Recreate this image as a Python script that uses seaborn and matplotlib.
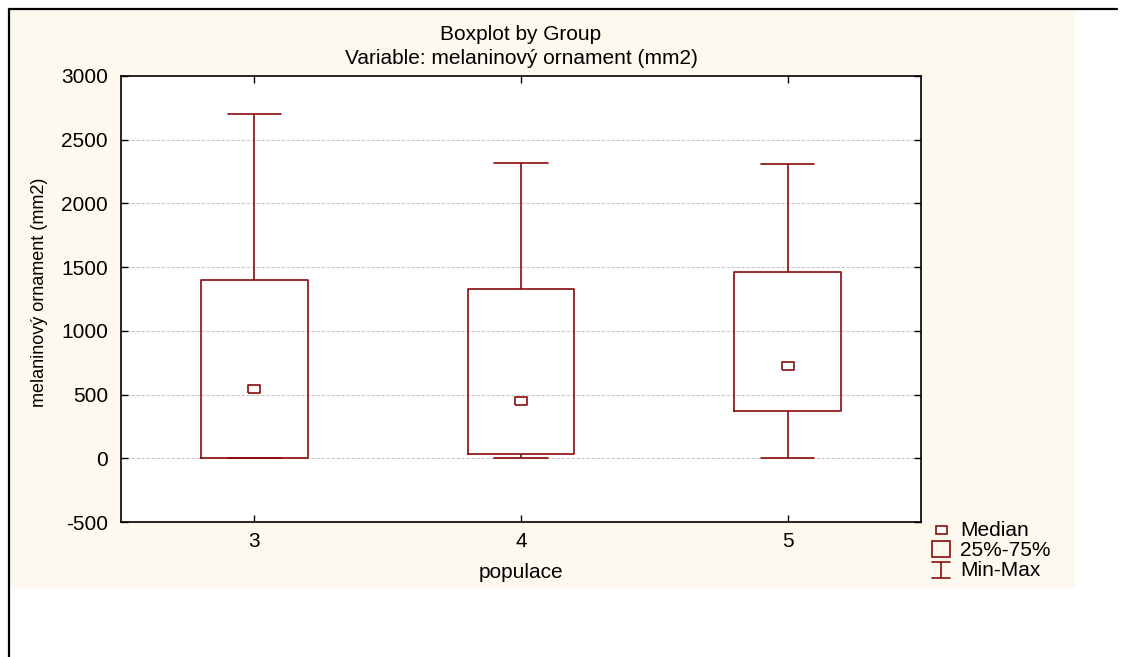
import numpy as np
import pandas as pd
import matplotlib
matplotlib.use("Agg")
import matplotlib.pyplot as plt
from matplotlib.lines import Line2D
from matplotlib.patches import Rectangle
import seaborn as sns

# ---- data ----
groups = ["3", "4", "5"]
minimums = [0, 0, 0]
q1s = [0, 30, 370]
medians = [540, 450, 725]
q3s = [1400, 1330, 1465]
maximums = [2700, 2320, 2310]
y_ticks = [-500, 0, 500, 1000, 1500, 2000, 2500, 3000]

title_lines = ["Boxplot by Group", "Variable: melaninový ornament (mm2)"]
x_label = "populace"
y_label = "melaninový ornament (mm2)"
legend_labels = ["Median", "25%-75%", "Min-Max"]

RED = "#8b0a0a"
BEIGE = "#fdf9ee"
FS = 15

sns.set_theme(style="white")
plt.rcParams["font.family"] = ["Liberation Sans", "DejaVu Sans"]

# five values per group reproduce min / q1 / median / q3 / max exactly
rows = []
for g, a, b, c, d, e in zip(groups, minimums, q1s, medians, q3s, maximums):
    for v in (a, b, c, d, e):
        rows.append({"populace": g, "value": v})
df = pd.DataFrame(rows)
med_df = pd.DataFrame({"populace": groups, "value": medians})

W, H = 1126, 657
fig = plt.figure(figsize=(W / 100, H / 100), dpi=100)
fig.patch.set_facecolor("white")


def fx(px):
    return px / W


def fy(py):
    return 1 - py / H


# beige panel and frame
fig.patches.append(Rectangle((fx(10), fy(588)), (1075 - 10) / W, (588 - 10) / H,
                             transform=fig.transFigure, facecolor=BEIGE,
                             edgecolor="none", zorder=-5))
fig.lines.append(Line2D([fx(9), fx(1117)], [fy(9), fy(9)],
                        transform=fig.transFigure, color="black", lw=1.6))
fig.lines.append(Line2D([fx(9), fx(9)], [fy(9), 0],
                        transform=fig.transFigure, color="black", lw=1.6))

ax = fig.add_axes([fx(121), fy(522), (921 - 121) / W, (522 - 76) / H])
ax.set_facecolor("white")

sns.boxplot(data=df, x="populace", y="value", order=groups, ax=ax,
            width=0.4, whis=(0, 100), fill=False, color=RED, linecolor=RED,
            linewidth=1.2, showfliers=False,
            medianprops={"visible": False},
            capwidths=0.2)

sns.stripplot(data=med_df, x="populace", y="value", order=groups, ax=ax,
              jitter=False,
              marker=[(-1, -0.65), (1, -0.65), (1, 0.65), (-1, 0.65), (-1, -0.65)],
              s=8, color="white", edgecolor=RED, linewidth=1.2, zorder=5)

ax.set_ylim(-500, 3000)
ax.set_xlim(-0.5, 2.5)
ax.set_yticks(y_ticks)
ax.set_yticklabels([str(t) for t in y_ticks])
ax.set_xticks(range(len(groups)))
ax.set_xticklabels(groups)

for t in y_ticks[1:-1]:
    ax.axhline(t, color="#c8c8c8", lw=0.8, ls=(0, (3, 1.5)), zorder=0)

for s in ax.spines.values():
    s.set_visible(True)
    s.set_color("black")
    s.set_linewidth(1.2)

ax.tick_params(axis="y", which="both", left=True, right=True, direction="in",
               length=5, width=1, color="black", labelsize=FS, labelcolor="black", pad=9.5)
ax.tick_params(axis="x", which="both", bottom=True, top=True, direction="in",
               length=5, width=1, color="black", labelsize=FS, labelcolor="black", pad=7)

ax.set_xlabel("")
ax.set_ylabel("")
fig.text(fx(521), fy(572), x_label, ha="center", va="center", fontsize=FS, color="black")
fig.text(fx(40), fy(292), y_label, ha="center", va="center", rotation=90,
         fontsize=13, color="black")

fig.text(fx(521), fy(35), title_lines[0], ha="center", va="center", fontsize=FS, color="black")
fig.text(fx(521), fy(59), title_lines[1], ha="center", va="center", fontsize=FS, color="black")

# legend (drawn as handles + text)
fig.patches.append(Rectangle((fx(936), fy(533.5)), 11 / W, 7.5 / H, transform=fig.transFigure,
                             facecolor="white", edgecolor=RED, lw=1.2))
fig.patches.append(Rectangle((fx(932), fy(557)), 18 / W, 16 / H, transform=fig.transFigure,
                             facecolor="none", edgecolor=RED, lw=1.2))
for xs, ys in (([932, 950], [562, 562]), ([941, 941], [562, 578]), ([932, 950], [578, 578])):
    fig.lines.append(Line2D([fx(v) for v in xs], [fy(v) for v in ys],
                            transform=fig.transFigure, color=RED, lw=1.2))
for lab, yy in zip(legend_labels, (530.5, 550.5, 570)):
    fig.text(fx(960), fy(yy), lab, ha="left", va="center", fontsize=FS, color="black")

fig.savefig("out.png", dpi=100, facecolor="white")
